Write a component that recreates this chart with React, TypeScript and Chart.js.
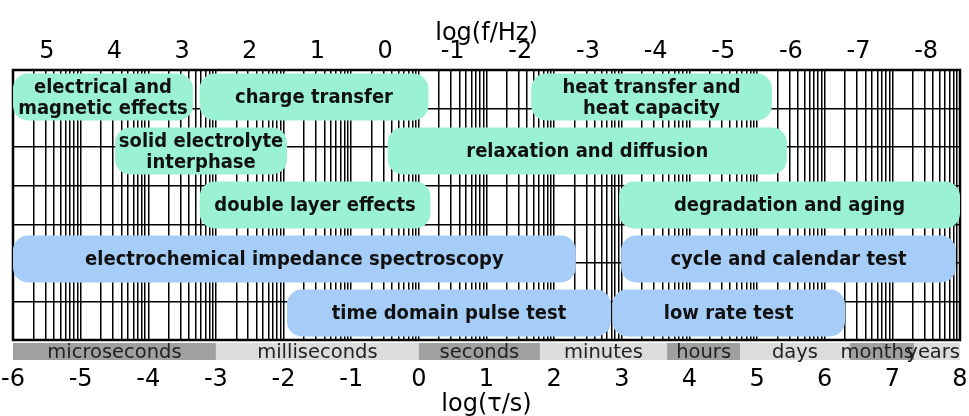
import React, { useEffect, useRef } from 'react';
import { Chart, registerables } from 'chart.js';

Chart.register(...registerables);

// ---- data ----
const rowIds = ['row1', 'row2', 'row3', 'row4', 'row5'];

const barLabels = [
  'electrical and\nmagnetic effects',
  'charge transfer',
  'heat transfer and\nheat capacity',
  'solid electrolyte\ninterphase',
  'relaxation and diffusion',
  'double layer effects',
  'degradation and aging',
  'electrochemical impedance spectroscopy',
  'cycle and calendar test',
  'time domain pulse test',
  'low rate test',
];
const barRows = [0, 0, 0, 1, 1, 2, 2, 3, 3, 4, 4];
const barStart = [-6, -3.24, 1.66, -4.49, -0.46, -3.24, 2.96, -6, 2.99, -1.95, 2.86];
const barEnd = [-3.34, 0.14, 5.22, -1.95, 5.44, 0.17, 8, 2.32, 7.94, 2.84, 6.3];
const barKinds = [
  'effect', 'effect', 'effect', 'effect', 'effect', 'effect', 'effect',
  'method', 'method', 'method', 'method',
];

const tauTicks = [-6, -5, -4, -3, -2, -1, 0, 1, 2, 3, 4, 5, 6, 7, 8];
const freqTicks = [5, 4, 3, 2, 1, 0, -1, -2, -3, -4, -5, -6, -7, -8];
const minorSteps = [2, 3, 4, 5, 6, 7, 8, 9];
const freqOffset = -0.5; // log(f/Hz) = -log(tau/s) + freqOffset

const unitNames = ['microseconds', 'milliseconds', 'seconds', 'minutes', 'hours', 'days', 'months', 'years'];
const unitStart = [-6, -3, 0, 1.79, 3.67, 4.75, 6.37, 7.32];
const unitEnd = [-3, 0, 1.79, 3.67, 4.75, 6.37, 7.32, 8];
const unitShade = ['dark', 'light', 'dark', 'light', 'dark', 'light', 'dark', 'light'];

const gridRowLines = [0, 1, 2, 3, 4, 5, 6];

// ---- styles ----
const FONT = '"DejaVu Sans", Verdana, sans-serif';
const BAR_COLORS: Record<string, string> = { effect: '#9af2d3', method: '#a6cdf8' };
const SHADE_COLORS: Record<string, string> = { dark: '#a0a0a0', light: '#dcdcdc' };
const TAU_MIN = tauTicks[0];
const TAU_MAX = tauTicks[tauTicks.length - 1];

const framePlugin = {
  id: 'frame',
  beforeDatasetsDraw(chart: any) {
    const { ctx, chartArea: a } = chart;
    ctx.save();
    ctx.strokeStyle = '#000';
    ctx.lineWidth = 2.5;
    ctx.strokeRect(a.left, a.top, a.right - a.left, a.bottom - a.top);
    ctx.restore();
  },
};

const labelPlugin = {
  id: 'barText',
  afterDatasetsDraw(chart: any) {
    const { ctx } = chart;
    const stretch = 1.1;
    barLabels.forEach((label, i) => {
      const meta = chart.getDatasetMeta(i);
      const el = meta.data[barRows[i]];
      if (!el) return;
      const p = el.getProps(['x', 'y', 'base'], true);
      const cx = (p.x + p.base) / 2;
      const lines = label.split('\n');
      const lh = 21;
      lines.forEach((ln, j) => {
        const cy = p.y + (j - (lines.length - 1) / 2) * lh + 1;
        ctx.save();
        ctx.translate(cx, cy);
        ctx.scale(1, stretch);
        ctx.font = `bold 18px ${FONT}`;
        ctx.fillStyle = '#111';
        ctx.textAlign = 'center';
        ctx.textBaseline = 'middle';
        ctx.fillText(ln, 0, 0);
        ctx.restore();
      });
    });
  },
};

const bandPlugin = {
  id: 'unitBand',
  afterDraw(chart: any) {
    const { ctx, chartArea: a } = chart;
    const xs = chart.scales.x;
    const top = a.bottom + 3;
    const h = 17;
    ctx.save();
    unitNames.forEach((name, i) => {
      const x0 = xs.getPixelForValue(unitStart[i]);
      const x1 = xs.getPixelForValue(unitEnd[i]);
      ctx.fillStyle = SHADE_COLORS[unitShade[i]];
      ctx.fillRect(x0, top, x1 - x0, h);
    });
    ctx.font = `19.5px ${FONT}`;
    ctx.fillStyle = '#222';
    ctx.textAlign = 'center';
    ctx.textBaseline = 'alphabetic';
    unitNames.forEach((name, i) => {
      const x0 = xs.getPixelForValue(unitStart[i]);
      const x1 = xs.getPixelForValue(unitEnd[i]);
      const w = ctx.measureText(name).width;
      let cx = (x0 + x1) / 2;
      if (cx + w / 2 > x1) cx = x1 - w / 2;
      ctx.fillText(name, cx, top + h - 2);
    });
    ctx.restore();
  },
};

export default function App() {
  const ref = useRef<HTMLCanvasElement | null>(null);

  useEffect(() => {
    if (!ref.current) return;
    const datasets = barLabels.map((label, i) => ({
      label,
      data: rowIds.map((_, r) => (r === barRows[i] ? [barStart[i], barEnd[i]] : null)),
      backgroundColor: BAR_COLORS[barKinds[i]],
      borderWidth: 0,
      borderRadius: 15,
      borderSkipped: false,
      grouped: false,
      barPercentage: 0.87,
      categoryPercentage: 1,
      xAxisID: 'x',
      yAxisID: 'y',
    }));

    const tauGrid: number[] = [];
    for (let d = TAU_MIN; d < TAU_MAX; d++) {
      tauGrid.push(d);
      minorSteps.forEach((k) => tauGrid.push(d + Math.log10(k)));
    }
    tauGrid.push(TAU_MAX);

    const chart = new Chart(ref.current, {
      type: 'bar',
      data: { labels: rowIds, datasets: datasets as any },
      plugins: [framePlugin, labelPlugin, bandPlugin],
      options: {
        indexAxis: 'y',
        animation: false,
        responsive: false,
        layout: { padding: { left: 13, right: 9, top: 0, bottom: 0 } },
        plugins: { legend: { display: false }, tooltip: { enabled: false } },
        scales: {
          x: {
            type: 'linear',
            position: 'bottom',
            min: TAU_MIN,
            max: TAU_MAX,
            afterBuildTicks: (s: any) => {
              s.ticks = tauGrid.map((v) => ({ value: v }));
            },
            afterFit: (s: any) => {
              s.height = 76;
              s.paddingLeft = 0;
              s.paddingRight = 0;
            },
            ticks: {
              autoSkip: false,
              maxRotation: 0,
              minRotation: 0,
              padding: 25,
              color: '#000',
              font: { family: FONT, size: 24 },
              callback: (v: any) => (tauTicks.includes(v) ? String(v) : ''),
            },
            grid: { color: '#000', lineWidth: 1.5, drawTicks: false },
            border: { display: false },
            title: {
              display: true,
              text: 'log(τ/s)',
              color: '#000',
              font: { family: FONT, size: 24, lineHeight: 0.9 },
              padding: { top: 0, bottom: 0 },
            },
          },
          xTop: {
            type: 'linear',
            position: 'top',
            reverse: true,
            min: -TAU_MAX + freqOffset,
            max: -TAU_MIN + freqOffset,
            afterBuildTicks: (s: any) => {
              s.ticks = freqTicks.map((v) => ({ value: v }));
            },
            afterFit: (s: any) => {
              s.height = 70;
              s.paddingLeft = 0;
              s.paddingRight = 0;
            },
            ticks: {
              autoSkip: false,
              maxRotation: 0,
              minRotation: 0,
              padding: 4,
              color: '#000',
              font: { family: FONT, size: 24 },
            },
            grid: { display: false, drawTicks: false },
            border: { display: false },
            title: {
              display: true,
              text: 'log(f/Hz)',
              color: '#000',
              font: { family: FONT, size: 24 },
              padding: { top: 19, bottom: 0 },
            },
          },
          y: {
            type: 'category',
            display: false,
          },
          y2: {
            type: 'linear',
            position: 'left',
            min: gridRowLines[0],
            max: gridRowLines[gridRowLines.length - 1],
            afterBuildTicks: (s: any) => {
              s.ticks = gridRowLines.map((v) => ({ value: v }));
            },
            afterFit: (s: any) => {
              s.width = 0;
              s.paddingTop = 0;
              s.paddingBottom = 0;
            },
            ticks: { display: false },
            grid: { color: '#000', lineWidth: 1.5, drawTicks: false },
            border: { display: false },
          },
        },
      } as any,
    });
    return () => chart.destroy();
  }, []);

  return (
    <div style={{ position: 'fixed', left: 0, top: 0, width: 969, height: 416, background: '#fff' }}>
      <canvas ref={ref} width={969} height={416} style={{ display: 'block' }} />
    </div>
  );
}
